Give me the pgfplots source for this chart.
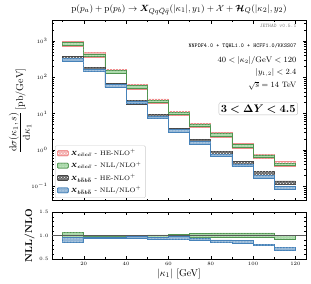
\documentclass[border=0pt]{standalone}
\usepackage{pgfplots}
\pgfplotsset{compat=1.18}
\usepackage{pgfplotstable}
\usepackage{amsmath,amssymb,bm}
\usepgfplotslibrary{fillbetween}
\usetikzlibrary{patterns}

\definecolor{cred}{RGB}{232,90,90}
\definecolor{cgreen}{RGB}{100,185,100}
\definecolor{cblack}{RGB}{70,70,70}
\definecolor{cblue}{RGB}{70,130,185}

% main panel: x lo hi
\pgfplotstableread{
x lo hi
10 722 955
20 365 483
30 127 168
40 47.9 63.3
50 19.1 25.3
60 8.79 11.6
70 4.09 5.41
80 2.26 2.99
90 1.12 1.48
100 0.574 0.759
110 0.357 0.472
120 0.357 0.472
}\catHE
\pgfplotstableread{
x lo hi
10 764 896
20 374 440
30 131 153
40 49.6 58.2
50 20.1 23.5
60 9.29 10.9
70 4.37 5.13
80 2.44 2.86
90 1.21 1.43
100 0.619 0.727
110 0.366 0.430
120 0.366 0.430
}\catNLL
\pgfplotstableread{
x lo hi
10 290 370
20 143 183
30 52.8 67.2
40 18.5 23.5
50 7.30 9.30
60 3.08 3.92
70 1.50 1.90
80 0.713 0.907
90 0.378 0.482
100 0.202 0.258
110 0.111 0.141
120 0.111 0.141
}\buluHE
\pgfplotstableread{
x lo hi
10 280 328
20 144 168
30 53.0 62.2
40 18.6 21.8
50 7.26 8.52
60 3.06 3.60
70 1.44 1.68
80 0.656 0.770
90 0.344 0.404
100 0.169 0.199
110 0.0834 0.0980
120 0.0834 0.0980
}\buluNLL
% ratio panel
\pgfplotstableread{
x lo hi
10 0.96 1.07
20 0.96 0.98
30 0.955 0.985
40 0.96 1.00
50 0.965 1.015
60 0.97 1.03
70 0.97 1.05
80 0.96 1.06
90 0.96 1.06
100 0.96 1.06
110 0.93 1.01
120 0.93 1.01
}\catR
\pgfplotstableread{
x lo hi
10 0.85 0.97
20 0.95 0.975
30 0.945 0.975
40 0.94 0.98
50 0.93 0.97
60 0.92 0.98
70 0.89 0.95
80 0.85 0.91
90 0.84 0.90
100 0.79 0.82
110 0.68 0.75
120 0.68 0.75
}\buluR

\tikzset{
 bandRed/.style={fill=cred!45, draw=cred!70, line width=0.6pt, postaction={pattern=crosshatch dots, pattern color=white}},
 bandGreen/.style={fill=cgreen!55, draw=cgreen!80!black, line width=0.6pt, postaction={pattern=dots, pattern color=white}},
 bandBlack/.style={fill=cblack!80, draw=cblack, line width=0.6pt, postaction={pattern=crosshatch dots, pattern color=white}},
 bandBlue/.style={fill=cblue!60, draw=cblue, line width=0.6pt, postaction={pattern=dots, pattern color=white}},
}

\newcommand{\band}[3]{%
 \addplot[const plot, draw=none, name path=#1hi, forget plot] table[x=x,y=hi]{#2};
 \addplot[const plot, draw=none, name path=#1lo, forget plot] table[x=x,y=lo]{#2};
 \addplot[#3, forget plot] fill between[of=#1hi and #1lo];
}

\begin{document}
\begin{tikzpicture}
\pgfplotsset{
 every axis/.append style={
  scale only axis, width=254pt,
  xmin=5, xmax=125,
  tick align=inside, ticks=both,
  xtick={20,40,...,120}, minor xtick={10,30,...,110},
  major tick length=3pt, minor tick length=1.6pt,
  tick label style={font=\fontsize{5.5}{6}\selectfont},
  axis line style={line width=0.6pt},
  every tick/.style={line width=0.4pt, black},
 }
}
\begin{axis}[
 name=main,
 height=180pt,
 ymode=log, ymin=0.04, ymax=3600,
 xticklabels={},
 title={$\mathrm{p}(p_a) + \mathrm{p}(p_b) \to \bm{X}_{Qq\bar{Q}\bar{q}}(|\kappa_1|, y_1) + \mathcal{X} + \bm{\mathcal{H}}_Q(|\kappa_2|, y_2)$},
 title style={font=\fontsize{9.4}{11}\selectfont, yshift=-4pt},
 ylabel={$\displaystyle\frac{\mathrm{d}\sigma(\kappa_1, s)}{\mathrm{d}\kappa_1}\,[\mathrm{pb/GeV}]$},
 ylabel style={font=\fontsize{10}{12}\selectfont, yshift=-7pt},
 yticklabel style={xshift=-1pt},
 legend style={at={(0.012,0.015)}, anchor=south west, font=\fontsize{6.4}{7.5}\selectfont, draw=gray!40, rounded corners=1pt, row sep=1pt, inner sep=1.8pt},
 legend image code/.code={\draw[#1] (0pt,-2.5pt) rectangle (11pt,2.5pt);},
 legend cell align=left,
]
\band{a}{\catHE}{bandRed}
\band{b}{\catNLL}{bandGreen}
\band{c}{\buluHE}{bandBlack}
\band{d}{\buluNLL}{bandBlue}
\addlegendimage{bandRed}
\addlegendentry{$\bm{X_{c\bar{c}c\bar{c}}}$ - HE-NLO$^+$}
\addlegendimage{bandGreen}
\addlegendentry{$\bm{X_{c\bar{c}c\bar{c}}}$ - NLL/NLO$^+$}
\addlegendimage{bandBlack}
\addlegendentry{$\bm{X_{b\bar{b}b\bar{b}}}$ - HE-NLO$^+$}
\addlegendimage{bandBlue}
\addlegendentry{$\bm{X_{b\bar{b}b\bar{b}}}$ - NLL/NLO$^+$}
\node[anchor=east, font=\fontsize{5.3}{6}\ttfamily, text=gray] at (rel axis cs:0.976,0.972) {JETHAD v0.5.1};
\node[anchor=east, font=\fontsize{5.8}{6}\ttfamily] at (rel axis cs:0.976,0.862) {NNPDF4.0 + TQHL1.0 + HCFF1.0/KKSS07};
\node[anchor=east, font=\fontsize{7.8}{8}\selectfont] at (rel axis cs:0.976,0.779) {$40 < |\kappa_2|/\mathrm{GeV} < 120$};
\node[anchor=east, font=\fontsize{7.8}{8}\selectfont] at (rel axis cs:0.976,0.713) {$|y_{1,2}| < 2.4$};
\node[anchor=east, font=\fontsize{7.8}{8}\selectfont] at (rel axis cs:0.976,0.640) {$\sqrt{s} = 14$ TeV};
\node[anchor=east, draw=gray!50, rounded corners=2pt, fill=white, inner sep=2pt, font=\fontsize{10.5}{11}\selectfont] at (rel axis cs:0.968,0.511) {$\bm{3 < \Delta Y < 4.5}$};
\end{axis}
\begin{axis}[
 name=ratio,
 at={(main.south west)}, anchor=north west, yshift=-11.6pt,
 height=46.7pt,
 ymin=0.5, ymax=1.5, ytick={0.5,1.0,1.5}, minor ytick={0.6,0.7,0.8,0.9,1.1,1.2,1.3,1.4},
 yticklabel style={/pgf/number format/.cd, fixed, fixed zerofill, precision=1},
 xlabel={$|\kappa_1|$ [GeV]},
 xlabel style={font=\fontsize{10}{11}\selectfont, yshift=4pt},
 ylabel={\textbf{NLL/NLO}},
 ylabel style={font=\fontsize{10}{11}\selectfont, yshift=-2pt},
]
\addplot[gray!70!black, line width=0.5pt, forget plot] coordinates {(5,1) (125,1)};
\band{e}{\catR}{bandGreen}
\band{f}{\buluR}{bandBlue}
\end{axis}
\pgfresetboundingbox
\path[use as bounding box] ([shift={(-52pt,20.7pt)}]main.north west) rectangle ([shift={(259pt,-263.3pt)}]main.north west);
\end{tikzpicture}
\end{document}
